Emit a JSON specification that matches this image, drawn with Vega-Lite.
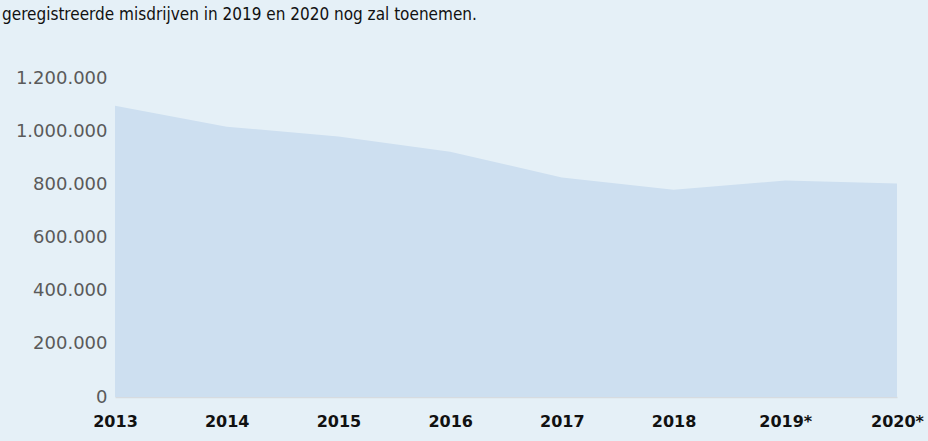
{
  "$schema": "https://vega.github.io/schema/vega-lite/v6.json",
  "width": 782,
  "height": 319,
  "autosize": {"type": "none"},
  "padding": {"left": 115, "top": 78, "right": 31, "bottom": 44},
  "background": "#e5f0f7",
  "title": {
    "text": "geregistreerde misdrijven in 2019 en 2020 nog zal toenemen.",
    "anchor": "start",
    "frame": "group",
    "orient": "top",
    "offset": 45,
    "dx": -113,
    "font": "DejaVu Sans Condensed",
    "fontSize": 17,
    "fontWeight": "normal",
    "color": "#111111"
  },
  "config": {
    "view": {"stroke": null},
    "axis": {"grid": false, "ticks": false}
  },
  "data": {
    "values": [
      {"jaar": "2013", "misdrijven": 1096000},
      {"jaar": "2014", "misdrijven": 1017000},
      {"jaar": "2015", "misdrijven": 980000},
      {"jaar": "2016", "misdrijven": 923000},
      {"jaar": "2017", "misdrijven": 826000},
      {"jaar": "2018", "misdrijven": 780000},
      {"jaar": "2019*", "misdrijven": 814000},
      {"jaar": "2020*", "misdrijven": 803000}
    ]
  },
  "mark": {"type": "area", "color": "#cddff0", "opacity": 1},
  "encoding": {
    "x": {
      "field": "jaar",
      "type": "ordinal",
      "sort": null,
      "scale": {"type": "point", "padding": 0},
      "axis": {
        "title": null,
        "labelAngle": 0,
        "labelFont": "DejaVu Sans",
        "labelFontWeight": "bold",
        "labelFontSize": 16,
        "labelColor": "#111111",
        "labelPadding": 16,
        "labelOverlap": false,
        "domain": true,
        "domainColor": "#d6dbe0",
        "domainWidth": 1.5
      }
    },
    "y": {
      "field": "misdrijven",
      "type": "quantitative",
      "scale": {"domain": [0, 1200000], "nice": false},
      "axis": {
        "title": null,
        "values": [0, 200000, 400000, 600000, 800000, 1000000, 1200000],
        "labelExpr": "replace(format(datum.value, ',d'), /,/g, '.')",
        "labelFont": "DejaVu Sans",
        "labelFontSize": 18,
        "labelColor": "#5a5a5a",
        "labelPadding": 8,
        "domain": false
      }
    }
  }
}
